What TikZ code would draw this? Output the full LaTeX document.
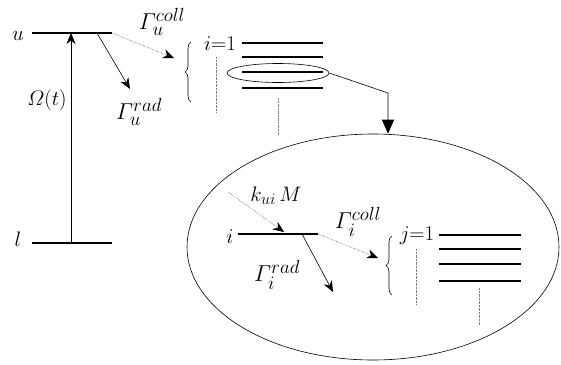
\RequirePackage{fix-cm}
\documentclass[tikz,border=0pt]{standalone}
\usepackage{amsmath, amssymb}
\usetikzlibrary{arrows.meta, positioning, shapes.geometric, decorations.pathreplacing}
\DeclareMathSizes{21}{21}{16}{12}
\DeclareMathSizes{23}{23}{19}{14}

\tikzset{
  level/.style={line width=1.6pt},
  radarr/.style={-{Stealth[length=11pt,width=9pt]},semithick},
  collarr/.style={-{Stealth[length=11pt,width=9pt]},densely dotted,thin},
  guide/.style={densely dotted,thin,gray},
  lbl/.style={font=\fontsize{21}{24}\selectfont,inner sep=0pt},
  ratelbl/.style={font=\fontsize{23}{26}\selectfont,inner sep=0pt},
  lvlbrace/.style={decorate,decoration={brace,amplitude=6pt},semithick}
}

\begin{document}
\begin{tikzpicture}[x=1pt,y=-1pt]
    \useasboundingbox (0,0) rectangle (561,364);

    % two-level system u, l
    \coordinate (uL) at (32,33);  \coordinate (uR) at (112,33);
    \coordinate (lL) at (32,243); \coordinate (lR) at (112,243);
    \draw[level] (uL) -- (uR);
    \draw[level] (lL) -- (lR);
    \node[lbl] (labu) at (18,36) {$u$};
    \node[lbl] (labl) at (18,239) {$l$};

    % pump
    \coordinate (pumpB) at (71,243); \coordinate (pumpT) at (71,33);
    \draw[radarr] (pumpB) -- (pumpT);
    \node[lbl] (omega) at (47,100) {$\varOmega(t)$};

    % decay of u
    \coordinate (uRad) at (97,33);  \coordinate (uRadEnd) at (130,89);
    \draw[radarr] (uRad) -- (uRadEnd);
    \node[ratelbl] (gurad) at (139,112) {$\varGamma_{u}^{rad}$};
    \coordinate (uCollEnd) at (174,58);
    \draw[collarr] (uR) -- (uCollEnd);
    \node[ratelbl] (gucoll) at (162,22) {$\varGamma_{u}^{coll}$};

    % manifold i
    \draw[lvlbrace] (191,102) -- (191,42);
    \node[lbl] (ione) at (220,44) {$i$=1};
    \draw[guide] (216,57) -- (216,112);
    \foreach \y in {43,57,72,88}
        \draw[level] (242,\y) -- (323,\y);
    \draw[guide] (278,98) -- (278,135);
    \node[draw,semithick,ellipse,minimum width=102pt,minimum height=19pt,inner sep=0pt] (sel) at (278,73) {};

    % zoom on level i
    \node[draw,semithick,ellipse,minimum width=372pt,minimum height=226pt] (big) at (373,247) {};
    \coordinate (bend) at (388,93);
    \draw[semithick,-{Triangle[length=14pt,width=12pt]}] (sel.east) -- (bend) -- (bend |- big.north);

    % level i
    \coordinate (iL) at (238,234); \coordinate (iR) at (318,234);
    \draw[level] (iL) -- (iR);
    \node[lbl] (labi) at (230,237) {$i$};
    \coordinate (kStart) at (228,192); \coordinate (kEnd) at (284,232);
    \draw[collarr] (kStart) -- (kEnd);
    \node[lbl] (kui) at (276,196) {$k_{ui}\,M$};
    \coordinate (iRad) at (302,234); \coordinate (iRadEnd) at (333,292);
    \draw[radarr] (iRad) -- (iRadEnd);
    \node[ratelbl] (girad) at (277,275) {$\varGamma_{i}^{rad}$};
    \coordinate (iCollEnd) at (378,258);
    \draw[collarr] (iR) -- (iCollEnd);
    \node[ratelbl] (gicoll) at (358,222) {$\varGamma_{i}^{coll}$};

    % manifold j
    \draw[lvlbrace] (392,295) -- (392,236);
    \node[lbl] (jone) at (417,236) {$j$=1};
    \draw[guide] (416,249) -- (416,305);
    \foreach \y in {235,249,264,281}
        \draw[level] (439,\y) -- (521,\y);
    \draw[guide] (479,288) -- (479,325);
\end{tikzpicture}
\end{document}
